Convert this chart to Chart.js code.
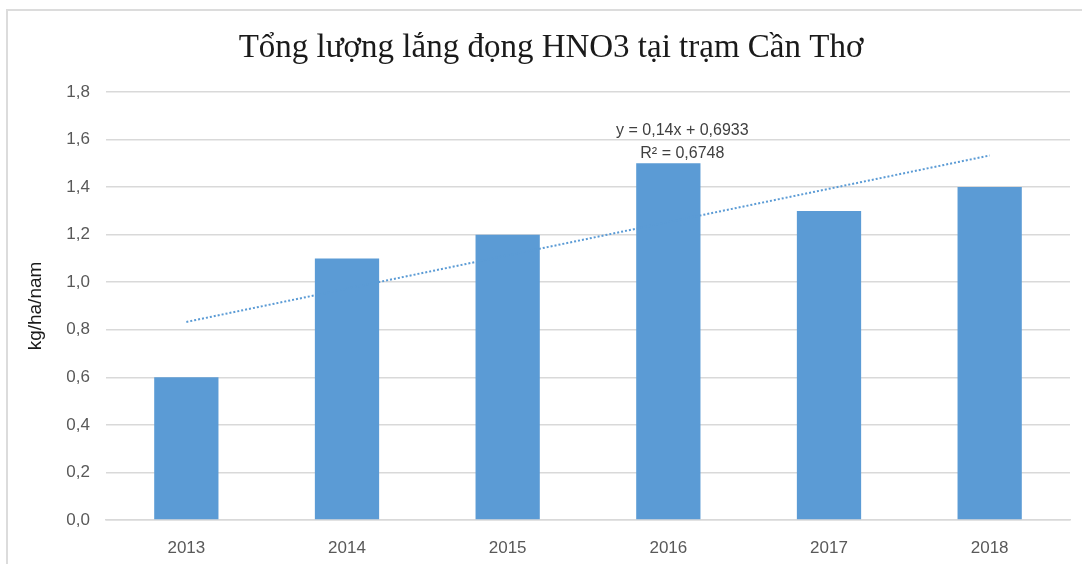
<!DOCTYPE html>
<html>
<head>
<meta charset="utf-8">
<script src="https://cdn.jsdelivr.net/npm/chart.js@4"></script>
<style>
  body { margin: 0; background: #fff; }
  #frame {
    position: absolute; left: 6px; top: 9px; width: 1100px; height: 600px;
    border: 2px solid #dcdcdc;
  }
  #wrap { position: absolute; left: 0; top: 0; width: 1082px; height: 564px; }
</style>
</head>
<body>
<div id="frame"></div>
<div id="wrap"><canvas id="chart" width="1082" height="564"></canvas></div>
<script>
// data
const years = ["2013", "2014", "2015", "2016", "2017", "2018"];
const hno3 = [0.6, 1.1, 1.2, 1.5, 1.3, 1.4];
// linear trend, first and last points only (y = 0,14x + 0,6933)
const trend = [0.833, null, null, null, null, 1.533];
const trendLabel = ["y = 0,14x + 0,6933", "R² = 0,6748"];

const titleText = "Tổng lượng lắng đọng HNO3 tại trạm Cần Thơ";
const yTitle = "kg/ha/nam";

const BAR = "#5b9bd5";
const GRID = "#d9d9d9";
const TICK = "#595959";
const SANS = "'Liberation Sans', Arial, sans-serif";

// title + trendline equation
const textPlugin = {
  id: "texts",
  afterDraw(chart) {
    const ctx = chart.ctx;
    const x = chart.scales.x;
    const y = chart.scales.y;
    ctx.save();
    ctx.fillStyle = "#1a1a1a";
    ctx.font = "33px 'Liberation Serif', 'Times New Roman', serif";
    ctx.textAlign = "center";
    ctx.textBaseline = "middle";
    ctx.fillText(titleText, 551, 48);

    ctx.fillStyle = "#404040";
    ctx.font = "16px " + SANS;
    const cx = x.getPixelForValue(3) + 14;
    ctx.fillText(trendLabel[0], cx, y.getPixelForValue(1.639));
    ctx.fillText(trendLabel[1], cx, y.getPixelForValue(1.543));
    ctx.restore();
  },
};

new Chart(document.getElementById("chart"), {
  data: {
    labels: years,
    datasets: [
      {
        type: "bar",
        data: hno3,
        backgroundColor: BAR,
        barPercentage: 0.4,
        categoryPercentage: 1,
        order: 2,
      },
      {
        type: "line",
        data: trend,
        spanGaps: true,
        borderColor: BAR,
        borderWidth: 2,
        borderDash: [2, 2],
        pointRadius: 0,
        fill: false,
        order: 1,
      },
    ],
  },
  options: {
    responsive: false,
    animation: false,
    layout: { padding: { top: 92, right: 12, bottom: 0, left: 0 } },
    plugins: {
      legend: { display: false },
      title: { display: false },
      tooltip: { enabled: false },
    },
    scales: {
      x: {
        offset: true,
        grid: { display: false, drawTicks: false },
        border: { display: true, color: GRID, width: 1.5 },
        ticks: { color: TICK, font: { size: 17, family: SANS }, padding: 18 },
        afterFit(s) { s.height = 44; },
      },
      y: {
        min: 0,
        max: 1.8,
        grid: { color: GRID, lineWidth: 1.5, drawTicks: false },
        border: { display: false },
        ticks: {
          stepSize: 0.2,
          color: TICK,
          font: { size: 17, family: SANS },
          padding: 16,
          callback: (v) => v.toFixed(1).replace(".", ","),
        },
        title: {
          display: true,
          text: yTitle,
          color: "#1a1a1a",
          font: { size: 19, family: SANS },
          padding: { top: 24, bottom: 0 },
        },
        afterFit(s) { s.width = 106; },
      },
    },
  },
  plugins: [textPlugin],
});
</script>
</body>
</html>
